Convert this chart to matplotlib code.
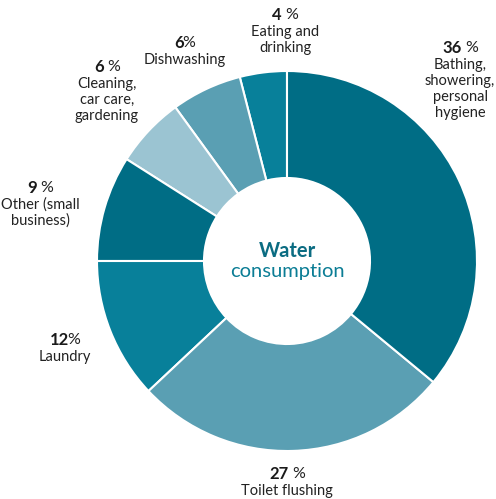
import matplotlib
matplotlib.use("Agg")
import matplotlib.pyplot as plt

categories = ["Eating and\ndrinking", "Dishwashing", "Cleaning,\ncar care,\ngardening",
              "Other (small\nbusiness)", "Laundry", "Toilet flushing",
              "Bathing,\nshowering,\npersonal\nhygiene"]
values = [4, 6, 6, 9, 12, 27, 36]
colors = ["#08809a", "#5a9fb3", "#9bc4d2", "#006d85", "#08809a", "#5a9fb3", "#006d85"]
# label anchor (pixel coords of the percent line centre), with percent spacing flag
label_pos = [(285, 15), (185, 43), (107, 67), (40, 188), (65, 340), (287, 474), (460, 48)]
spaced = [True, False, True, True, False, True, True]

W, H = 496, 499
fig = plt.figure(figsize=(W / 100, H / 100), dpi=100)
ax = fig.add_axes([0, 0, 1, 1])

cx, cy, R, r = 287, H - 261, 190, 83
ax.pie(values, colors=colors, startangle=90, counterclock=True, center=(cx, cy), radius=R,
       wedgeprops=dict(width=R - r, edgecolor="white", linewidth=1.5), frame=True)
ax.set_xlim(0, W)
ax.set_ylim(0, H)
ax.set_aspect("equal")
ax.axis("off")

fam = ["Lato", "DejaVu Sans"]
txtc = "#222222"
renderer = fig.canvas.get_renderer()
for cat, v, (x, y), sp in zip(categories, values, label_pos, spaced):
    yy = H - y
    t1 = ax.text(0, yy, str(v), ha="left", va="center", fontsize=12, fontweight="bold",
                 family=fam, color="#1a1a1a")
    t2 = ax.text(0, yy, "%", ha="left", va="center", fontsize=11.5,
                 family=fam, color=txtc)
    w1 = t1.get_window_extent(renderer).width
    w2 = t2.get_window_extent(renderer).width
    gap = 3.5 if sp else -1.5
    left = x - (w1 + gap + w2) / 2
    t1.set_x(left)
    t2.set_x(left + w1 + gap)
    for i, line in enumerate(cat.split("\n")):
        ax.text(x, yy - 17 - 16 * i, line, ha="center", va="center", fontsize=10.5,
                family=fam, color=txtc)

ax.text(cx, H - 251, "Water", ha="center", va="center", fontsize=14.5, fontweight="bold",
        family=fam, color="#0b6c82")
ax.text(cx, H - 271, "consumption", ha="center", va="center", fontsize=14.5,
        family=fam, color="#0b7d95")

fig.savefig("out.png", dpi=100)
